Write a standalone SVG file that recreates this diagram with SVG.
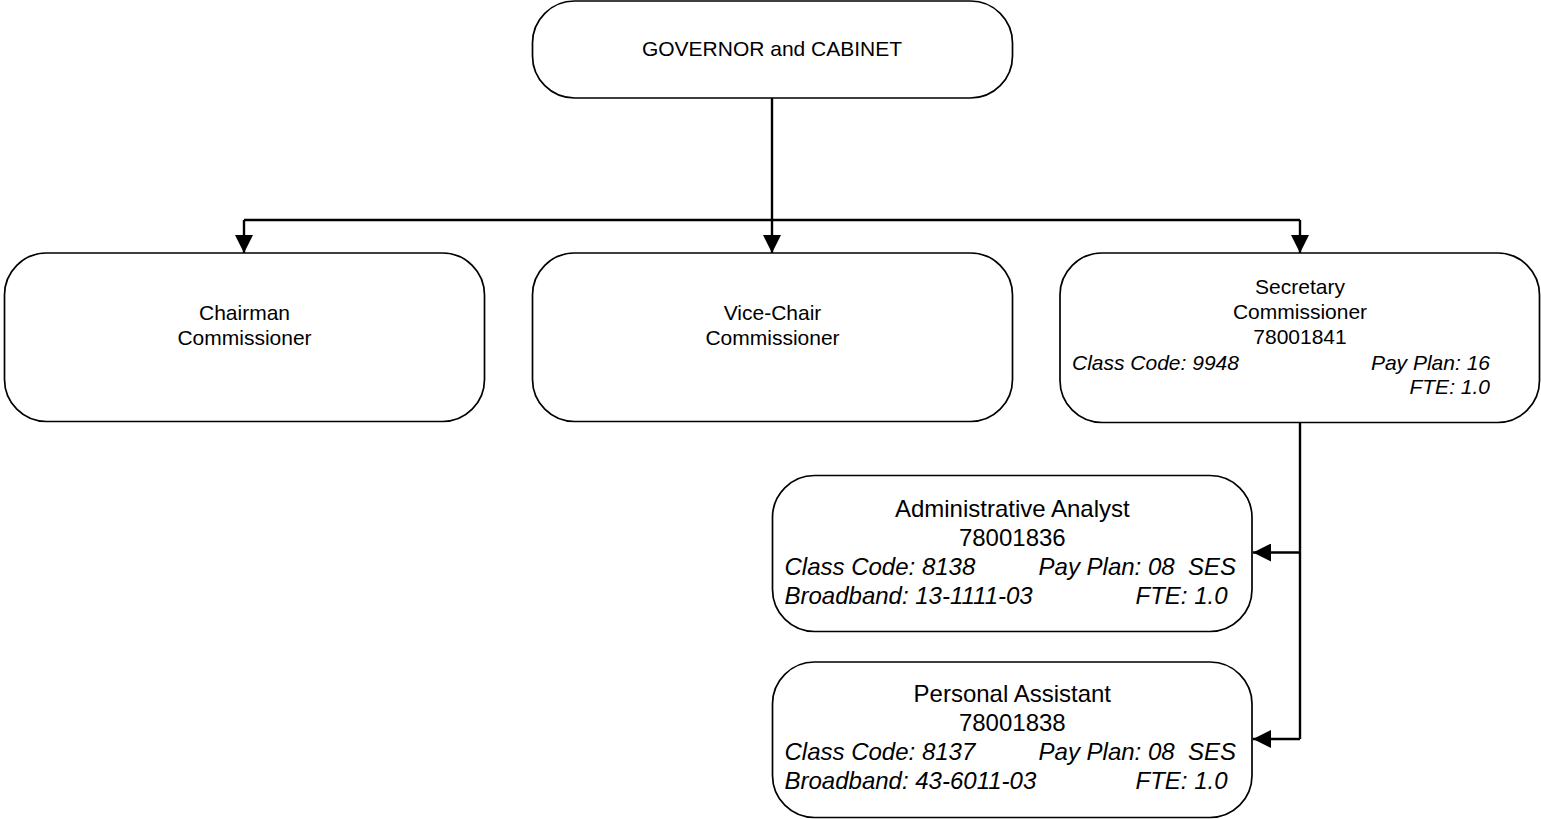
<svg xmlns="http://www.w3.org/2000/svg" width="1541" height="819" viewBox="0 0 1541 819">
<style>
.box{fill:#fff;stroke:#000;stroke-width:1.7}
.t{font-family:"Liberation Sans",Arial,sans-serif;fill:#000}
.c{text-anchor:middle}
.r{text-anchor:end}
.i{font-style:italic}
.s21{font-size:21px}
.s24{font-size:24px}
.pre{white-space:pre}
.conn{fill:none;stroke:#000;stroke-width:2.4}
</style>
<defs>
<marker id="arr" viewBox="0 0 18 18" refX="18" refY="9" markerWidth="18" markerHeight="18" markerUnits="userSpaceOnUse" orient="auto">
<path d="M0,0 L18,9 L0,18 Z" fill="#000"/>
</marker>
</defs>
<g id="connectors">
<path class="conn" d="M772,98 V253" marker-end="url(#arr)"/>
<path class="conn" d="M244,220 H1300"/>
<path class="conn" d="M244,220 V253" marker-end="url(#arr)"/>
<path class="conn" d="M1300,220 V253" marker-end="url(#arr)"/>
<path class="conn" d="M1300,423 V739"/>
<path class="conn" d="M1300,552.5 H1253" marker-end="url(#arr)"/>
<path class="conn" d="M1300,739 H1253" marker-end="url(#arr)"/>
</g>
<g id="governor">
<rect class="box" x="532.5" y="1" width="480" height="97" rx="42" ry="42"/>
<text class="t c s21" x="772" y="56">GOVERNOR and CABINET</text>
</g>
<g id="chairman">
<rect class="box" x="4.5" y="253" width="480" height="168.5" rx="42" ry="42"/>
<text class="t c s21" x="244.5" y="320">Chairman</text>
<text class="t c s21" x="244.5" y="344.5">Commissioner</text>
</g>
<g id="vicechair">
<rect class="box" x="532.5" y="253" width="480" height="168.5" rx="42" ry="42"/>
<text class="t c s21" x="772.5" y="320">Vice-Chair</text>
<text class="t c s21" x="772.5" y="344.5">Commissioner</text>
</g>
<g id="secretary">
<rect class="box" x="1060" y="253" width="479.5" height="169.5" rx="42" ry="42"/>
<text class="t c s21" x="1300" y="294">Secretary</text>
<text class="t c s21" x="1300" y="319">Commissioner</text>
<text class="t c s21" x="1300" y="344">78001841</text>
<text class="t i s21" x="1072" y="369.5">Class Code: 9948</text>
<text class="t i r s21" x="1490" y="369.5">Pay Plan: 16</text>
<text class="t i r s21" x="1490" y="393.5">FTE: 1.0</text>
</g>
<g id="admin">
<rect class="box" x="772.5" y="475.5" width="479.5" height="156" rx="42" ry="42"/>
<text class="t c s24" x="1012.3" y="516.5">Administrative Analyst</text>
<text class="t c s24" x="1012.3" y="546">78001836</text>
<text class="t i s24" x="784.5" y="575">Class Code: 8138</text>
<text class="t i r s24 pre" x="1236" y="575" xml:space="preserve">Pay Plan: 08  SES</text>
<text class="t i s24" x="784.5" y="604.3">Broadband: 13-1111-03</text>
<text class="t i r s24" x="1227.5" y="604.3">FTE: 1.0</text>
</g>
<g id="assistant">
<rect class="box" x="772.5" y="662" width="479.5" height="155.5" rx="42" ry="42"/>
<text class="t c s24" x="1012.3" y="701.7">Personal Assistant</text>
<text class="t c s24" x="1012.3" y="731">78001838</text>
<text class="t i s24" x="784.5" y="760">Class Code: 8137</text>
<text class="t i r s24 pre" x="1236" y="760" xml:space="preserve">Pay Plan: 08  SES</text>
<text class="t i s24" x="784.5" y="789.3">Broadband: 43-6011-03</text>
<text class="t i r s24" x="1227.5" y="789.3">FTE: 1.0</text>
</g>
</svg>
